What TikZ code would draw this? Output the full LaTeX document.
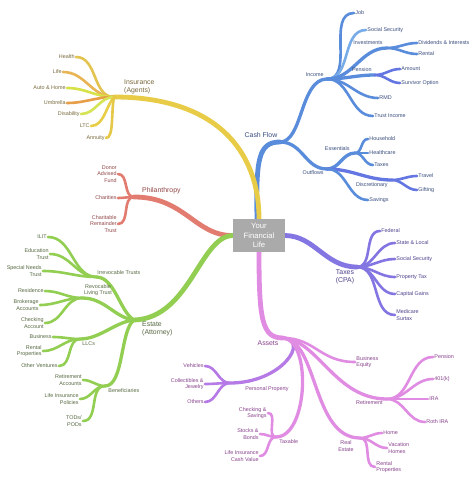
\documentclass[tikz,border=0pt]{standalone}
\usepackage{fontspec}
\setmainfont{Liberation Sans}
\usetikzlibrary{backgrounds}
\definecolor{cYel}{RGB}{232,204,72}
\definecolor{cYelT}{RGB}{120,105,60}
\definecolor{cBlue}{RGB}{90,140,220}
\definecolor{cBlueL}{RGB}{120,172,232}
\definecolor{cBlueD}{RGB}{100,118,226}
\definecolor{cBlueT}{RGB}{55,75,125}
\definecolor{cTax}{RGB}{132,118,226}
\definecolor{cTaxT}{RGB}{75,65,140}
\definecolor{cPink}{RGB}{224,140,226}
\definecolor{cPurp}{RGB}{182,122,230}
\definecolor{cPinkT}{RGB}{135,65,140}
\definecolor{cRed}{RGB}{226,124,112}
\definecolor{cRedT}{RGB}{145,70,70}
\definecolor{cGrn}{RGB}{146,206,82}
\definecolor{cGrnT}{RGB}{85,105,65}
\definecolor{cBox}{RGB}{170,170,170}
\definecolor{yHealth}{RGB}{228,196,80}
\definecolor{yLife}{RGB}{232,180,84}
\definecolor{yAuto}{RGB}{214,226,72}
\definecolor{yUmb}{RGB}{230,158,72}
\definecolor{yDis}{RGB}{212,228,84}
\definecolor{yLTC}{RGB}{232,206,70}
\definecolor{yAnn}{RGB}{230,200,72}
\tikzset{
  lf/.style={font=\fontsize{5.4}{6.6}\selectfont, inner sep=1.2pt},
  lfR/.style={lf, anchor=west, align=left},
  lfL/.style={lf, anchor=east, align=right},
  md/.style={font=\fontsize{6.9}{8.5}\selectfont, inner sep=0pt, align=left},
  mainbr/.style={line width=4.8pt, line cap=round},
  midbr/.style={line width=3.3pt, line cap=round},
  leafbr/.style={line width=2.6pt, line cap=round},
}
\begin{document}
\begin{tikzpicture}[x=1pt,y=-1pt]
\useasboundingbox (0,0) rectangle (474,478);
% centre
\node[fill=cBox, text=white, minimum width=52pt, minimum height=33pt, inner sep=0pt, align=center, font=\fontsize{7.7}{9.2}\selectfont] (ctr) at (259,235.5) {Your\\Financial\\Life};
% junctions
\coordinate (jIns) at (114,97);
\coordinate (jCF) at (280,142);
\coordinate (jInc) at (327,79);
\coordinate (jInv) at (387,48);
\coordinate (jPen) at (375,75);
\coordinate (jOut) at (327,169);
\coordinate (jEss) at (355,153);
\coordinate (jDis) at (392,180);
\coordinate (jTax) at (357,267);
\coordinate (jAs) at (283,338);
\coordinate (jPP) at (230,383);
\coordinate (jTx) at (276,437);
\coordinate (jRet) at (387,399);
\coordinate (jRE) at (360,438);
\coordinate (jPhil) at (134,197);
\coordinate (jEst) at (134,320);
\coordinate (jIrr) at (97,277);
\coordinate (jRev) at (82,298);
\coordinate (jLLC) at (80,339);
\coordinate (jBen) at (105,386);
% insurance
\node[md, anchor=west, text=cYelT] (lIns) at (124,87) {Insurance\\(Agents)};
\begin{scope}[every node/.append style={text=cYelT}]
\node[lfL] (iHealth) at (76,57) {Health};
\node[lfL] (iLife) at (63,72) {Life};
\node[lfL] (iAuto) at (67,88) {Auto \& Home};
\node[lfL] (iUmb) at (67,103) {Umbrella};
\node[lfL] (iDis) at (81,114) {Disability};
\node[lfL] (iLTC) at (91,126) {LTC};
\node[lfL] (iAnn) at (106,138) {Annuity};
\end{scope}
% cash flow
\begin{scope}[every node/.append style={text=cBlueT}]
\node[md, anchor=center] (lCF) at (261,135.5) {Cash Flow};
\node[lf, anchor=east] (lInc) at (325,75) {Income};
\node[lf, anchor=east] (lInv) at (384,43) {Investments};
\node[lf, anchor=east] (lPen) at (373,70) {Pension};
\node[lf, anchor=east] (lOut) at (325,173) {Outflows};
\node[lf, anchor=east] (lEss) at (351,149) {Essentials};
\node[lf, anchor=east] (lDis) at (389,185) {Discretionary};
\node[lfR] (bJob) at (354,13) {Job};
\node[lfR] (bSS) at (366,30) {Social Security};
\node[lfR] (bDiv) at (417,43) {Dividends \& Interests};
\node[lfR] (bRent) at (417,54) {Rental};
\node[lfR] (bAmt) at (400,69) {Amount};
\node[lfR] (bSurv) at (400,83) {Survivor Option};
\node[lfR] (bRMD) at (378,98) {RMD};
\node[lfR] (bTI) at (373,116) {Trust Income};
\node[lfR] (bHH) at (368,139) {Household};
\node[lfR] (bHC) at (368,153) {Healthcare};
\node[lfR] (bTx) at (373,165) {Taxes};
\node[lfR] (bTrav) at (417,176) {Travel};
\node[lfR] (bGift) at (417,190) {Gifting};
\node[lfR] (bSav) at (368,200) {Savings};
\end{scope}
% taxes
\begin{scope}[every node/.append style={text=cTaxT}]
\node[md, align=center] (lTax) at (345,277) {Taxes\\(CPA)};
\node[lfR] (tFed) at (380,231) {Federal};
\node[lfR] (tSL) at (395,243) {State \& Local};
\node[lfR] (tSS) at (395,259) {Social Security};
\node[lfR] (tPT) at (395,277) {Property Tax};
\node[lfR] (tCG) at (395,294) {Capital Gains};
\node[lfR] (tMS) at (395,315) {Medicare\\Surtax};
\end{scope}
% assets
\begin{scope}[every node/.append style={text=cPinkT}]
\node[md] (lAs) at (268,343) {Assets};
\node[lf, anchor=west] (lPP) at (244,389) {Personal Property};
\node[lf, anchor=west] (lTx) at (278,441.5) {Taxable};
\node[lf, anchor=east] (lRet) at (384,403) {Retirement};
\node[lf, align=center] (lRE) at (346,446) {Real\\Estate};
\node[lfL] (aVeh) at (205,366) {Vehicles};
\node[lfL] (aCol) at (205,384) {Collectibles \&\\Jewelry};
\node[lfL] (aOth) at (205,402) {Others};
\node[lfL] (aCS) at (268,413) {Checking \&\\Savings};
\node[lfL] (aSB) at (260,434) {Stocks \&\\Bonds};
\node[lfL] (aLI) at (260,456) {Life Insurance\\Cash Value};
\node[lfR] (aBE) at (355,362) {Business\\Equity};
\node[lfR] (aPen) at (433,357) {Pension};
\node[lfR] (a401) at (433,379) {401(k)};
\node[lfR] (aIRA) at (428,399) {IRA};
\node[lfR] (aRoth) at (425,422) {Roth IRA};
\node[lfR] (aHome) at (382,433) {Home};
\node[lfR] (aVac) at (387,448) {Vacation\\Homes};
\node[lfR] (aRP) at (375,467) {Rental\\Properties};
\end{scope}
% philanthropy
\begin{scope}[every node/.append style={text=cRedT}]
\node[md, anchor=west] (lPhil) at (142,191) {Philanthropy};
\node[lfL] (pDon) at (118,174) {Donor\\Advised\\Fund};
\node[lfL] (pChar) at (118,198) {Charities};
\node[lfL] (pCRT) at (118,224) {Charitable\\Remainder\\Trust};
\end{scope}
% estate
\begin{scope}[every node/.append style={text=cGrnT}]
\node[md, anchor=west] (lEst) at (142,329) {Estate\\(Attorney)};
\node[lf, anchor=west] (lIrr) at (96,272.5) {Irrevocable Trusts};
\node[lf, align=center] (lRev) at (98,290) {Revocable\\Living Trust};
\node[lf, anchor=west] (lLLC) at (81,344) {LLCs};
\node[lf, anchor=west] (lBen) at (107,391) {Beneficiaries};
\node[lfL] (eILIT) at (48,237) {ILIT};
\node[lfL] (eEdu) at (50,254) {Education\\Trust};
\node[lfL] (eSN) at (43,271) {Special Needs\\Trust};
\node[lfL] (eRes) at (45,291) {Residence};
\node[lfL] (eBro) at (40,305) {Brokerage\\Accounts};
\node[lfL] (eChk) at (45,323) {Checking\\Account};
\node[lfL] (eBus) at (53,337) {Business};
\node[lfL] (eRP) at (43,351) {Rental\\Properties};
\node[lfL] (eOV) at (59,366) {Other Ventures};
\node[lfL] (eRA) at (83,380) {Retirement\\Accounts};
\node[lfL] (eLI) at (80,399) {Life Insurance\\Policies};
\node[lfL] (eTOD) at (83,421) {TODs/\\PODs};
\end{scope}
% ---------------- connectors ----------------
\begin{scope}[on background layer]
\fill[white] (0,0) rectangle (474,478);
% cash flow
\draw[mainbr, cBlue] ([xshift=-2pt]ctr.north) .. controls (256,160) and (258,142) .. (jCF);
\draw[midbr, cBlue] (jCF) .. controls (303,142) and (300,79) .. (jInc);
\draw[midbr, cBlue] (jCF) .. controls (303,142) and (305,169) .. (jOut);
\draw[leafbr, cBlue] (jInc) to[out=0,in=180] (bJob.west);
\draw[leafbr, cBlueL] (jInc) to[out=0,in=180] (bSS.west);
\draw[midbr, cBlue] (jInc) to[out=0,in=180] (jInv);
\draw[midbr, cBlue] (jInc) to[out=0,in=180] (jPen);
\draw[leafbr, cBlue] (jInc) to[out=0,in=180] (bRMD.west);
\draw[leafbr, cBlue] (jInc) to[out=0,in=180] (bTI.west);
\draw[leafbr, cBlue] (jInv) to[out=0,in=180] (bDiv.west);
\draw[leafbr, cBlue] (jInv) to[out=0,in=180] (bRent.west);
\draw[leafbr, cBlueD] (jPen) to[out=0,in=180] (bAmt.west);
\draw[leafbr, cBlueD] (jPen) to[out=0,in=180] (bSurv.west);
\draw[midbr, cBlue] (jOut) to[out=0,in=180] (jEss);
\draw[midbr, cBlueD] (jOut) to[out=0,in=180] (jDis);
\draw[leafbr, cBlue] (jOut) to[out=0,in=180] (bSav.west);
\draw[leafbr, cBlue] (jEss) to[out=0,in=180] (bHH.west);
\draw[leafbr, cBlue] (jEss) to[out=0,in=180] (bHC.west);
\draw[leafbr, cBlue] (jEss) to[out=0,in=180] (bTx.west);
\draw[leafbr, cBlueD] (jDis) to[out=0,in=180] (bTrav.west);
\draw[leafbr, cBlueD] (jDis) to[out=0,in=180] (bGift.west);
% insurance
\draw[mainbr, cYel] (ctr.north) .. controls (259,150) and (215,97) .. (jIns);
\draw[leafbr, yHealth] (jIns) to[out=180,in=0] (iHealth.east);
\draw[leafbr, yLife] (jIns) to[out=180,in=0] (iLife.east);
\draw[leafbr, yAuto] (jIns) to[out=180,in=0] (iAuto.east);
\draw[leafbr, yUmb] (jIns) to[out=180,in=0] (iUmb.east);
\draw[leafbr, yDis] (jIns) to[out=180,in=0] (iDis.east);
\draw[leafbr, yLTC] (jIns) .. controls (106,106) and (104,126) .. (iLTC.east);
\draw[leafbr, yAnn] (jIns) .. controls (111,112) and (114,138) .. (iAnn.east);
% taxes
\draw[mainbr, cTax] (ctr.east) .. controls (315,236) and (325,267) .. (jTax);
\foreach \n in {tFed,tSL,tSS,tPT,tCG,tMS}
  \draw[leafbr, cTax] (jTax) to[out=0,in=180] (\n.west);
% assets
\draw[mainbr, cPink] (ctr.south) .. controls (259,320) and (262,338) .. (jAs);
\draw[midbr, cPurp] (jAs) .. controls (310,340) and (282,383) .. (jPP);
\draw[midbr, cPink] (jAs) .. controls (312,340) and (308,437) .. (jTx);
\draw[leafbr, cPink] (jAs) .. controls (315,338) and (320,362) .. (aBE.west);
\draw[midbr, cPink] (jAs) .. controls (318,340) and (335,399) .. (jRet);
\draw[midbr, cPink] (jAs) .. controls (318,340) and (312,438) .. (jRE);
\foreach \n in {aVeh,aCol,aOth}
  \draw[leafbr, cPurp] (jPP) to[out=180,in=0] (\n.east);
\foreach \n in {aCS,aSB,aLI}
  \draw[leafbr, cPink] (jTx) to[out=180,in=0] (\n.east);
\foreach \n in {aPen,a401,aIRA,aRoth}
  \draw[leafbr, cPink] (jRet) to[out=0,in=180] (\n.west);
\foreach \n in {aHome,aVac,aRP}
  \draw[leafbr, cPink] (jRE) to[out=0,in=180] (\n.west);
% philanthropy
\draw[mainbr, cRed] (ctr.west) .. controls (195,236) and (185,197) .. (jPhil);
\foreach \n in {pDon,pChar,pCRT}
  \draw[leafbr, cRed] (jPhil) to[out=180,in=0] (\n.east);
% estate
\draw[mainbr, cGrn] (ctr.west) .. controls (200,236) and (190,318) .. (jEst);
\draw[midbr, cGrn] (jEst) .. controls (120,312) and (115,278) .. (jIrr);
\draw[midbr, cGrn] (jEst) .. controls (115,318) and (105,298) .. (jRev);
\draw[midbr, cGrn] (jEst) .. controls (115,322) and (100,339) .. (jLLC);
\draw[midbr, cGrn] (jEst) .. controls (120,330) and (124,386) .. (jBen);
\foreach \n in {eILIT,eEdu,eSN}
  \draw[leafbr, cGrn] (jIrr) to[out=180,in=0] (\n.east);
\foreach \n in {eRes,eBro,eChk}
  \draw[leafbr, cGrn] (jRev) to[out=180,in=0] (\n.east);
\foreach \n in {eBus,eRP,eOV}
  \draw[leafbr, cGrn] (jLLC) to[out=180,in=0] (\n.east);
\foreach \n in {eRA,eLI,eTOD}
  \draw[leafbr, cGrn] (jBen) to[out=180,in=0] (\n.east);
\end{scope}
\end{tikzpicture}
\end{document}
